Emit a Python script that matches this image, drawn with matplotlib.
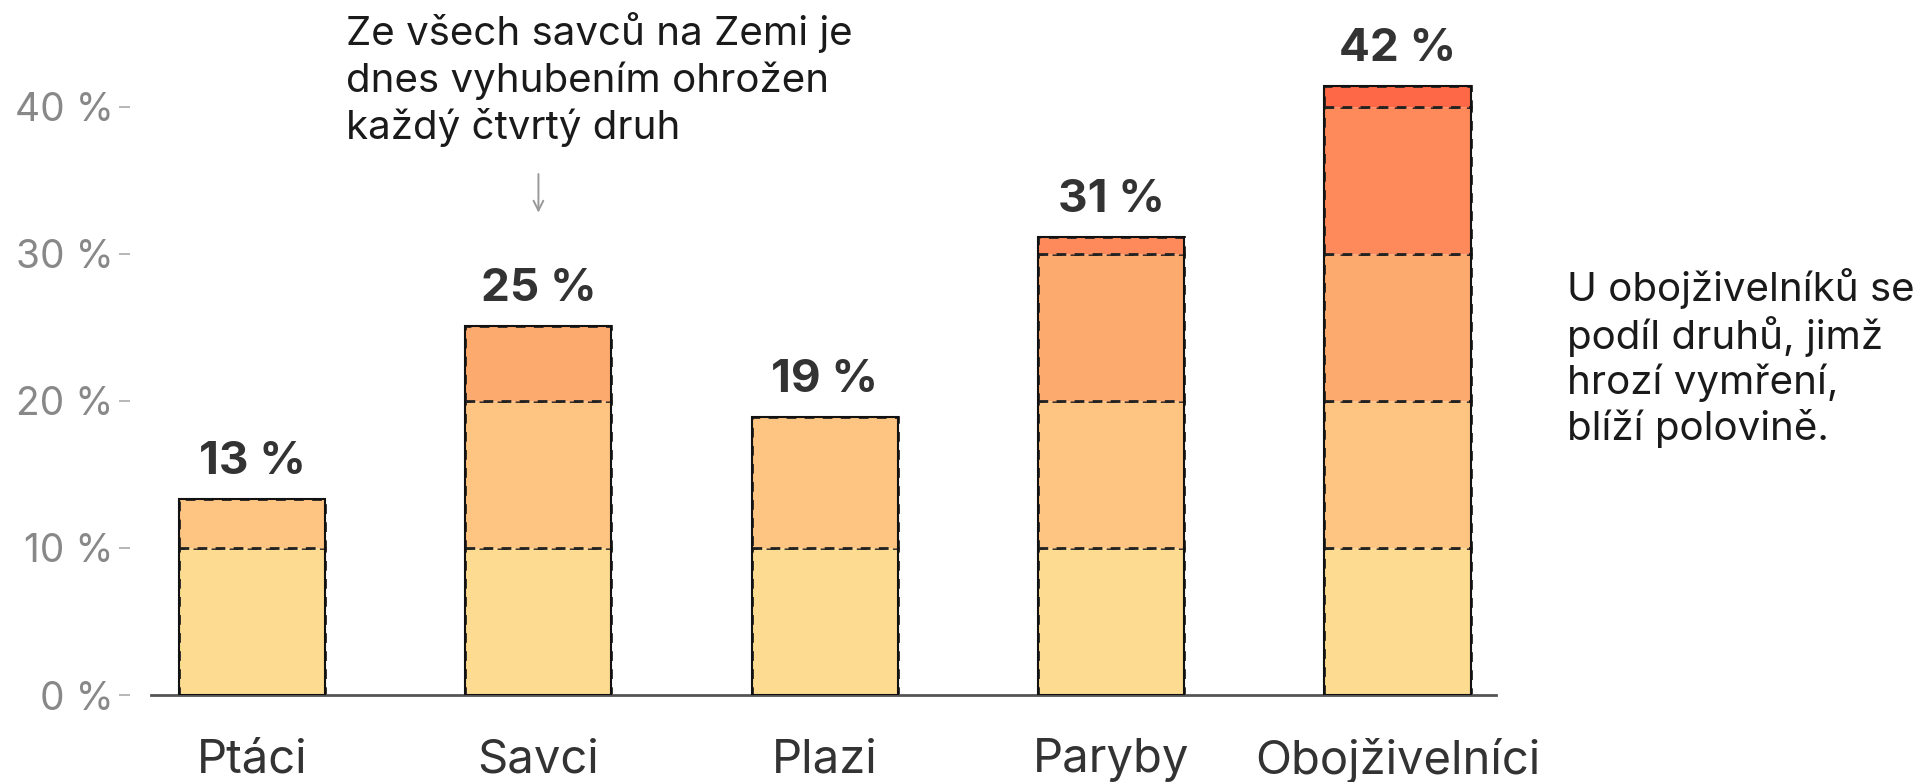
import matplotlib
matplotlib.use("Agg")
import matplotlib.pyplot as plt
from matplotlib.patches import Rectangle

plt.rcParams['font.family'] = ['Inter', 'DejaVu Sans']

kategorie = ['Ptáci', 'Savci', 'Plazi', 'Paryby', 'Obojživelníci']
hodnoty = [13.3, 25.1, 18.9, 31.1, 41.4]
popisky = ['13 %', '25 %', '19 %', '31 %', '42 %']
hranice = [0, 10, 20, 30, 40, 50]
barvy = ['#FDDB91', '#FEC481', '#FDAA6E', '#FE895B', '#FE6846']

W, H = 1923, 782
fig = plt.figure(figsize=(W / 100, H / 100), dpi=100)
ax = fig.add_axes([151 / W, (H - 695) / H, 1345 / W, 662 / H])
# posun osy y nejdriv, jinak se resetuji ticky
ax.spines['left'].set_position(('outward', 15))
ax.spines['left'].set_visible(False)
ax.spines['top'].set_visible(False)
ax.spines['right'].set_visible(False)
ax.spines['bottom'].set_color('#555555')
ax.spines['bottom'].set_linewidth(2)

sirka = 0.51
for i, v in enumerate(hodnoty):
    x0 = i - sirka / 2
    # segmenty po 10 %
    for k in range(len(hranice) - 1):
        lo, hi = hranice[k], min(hranice[k + 1], v)
        if hi <= lo:
            break
        ax.add_patch(Rectangle((x0, lo), sirka, hi - lo, facecolor=barvy[k],
                               edgecolor='#222222', linestyle=(0, (3.5, 3)),
                               linewidth=2, zorder=2))
    ax.add_patch(Rectangle((x0, 0), sirka, v, facecolor='none',
                           edgecolor='#111111', linewidth=1.5, zorder=3))
    ax.annotate(popisky[i], xy=(i, v), xytext=(0, 18), textcoords='offset points',
                ha='center', va='baseline', fontsize=33, fontweight='bold',
                color='#333333')

ax.set_xlim(-0.353, 4.344)
ax.set_ylim(0, 45)
ax.set_xticks(range(len(kategorie)))
ax.set_xticklabels(kategorie, fontsize=34, color='#333333')
ax.tick_params(axis='x', length=0, pad=31)
ax.set_yticks([0, 10, 20, 30, 40])
ax.set_yticklabels(['0 %', '10 %', '20 %', '30 %', '40 %'], fontsize=28, color='#888888')
ax.tick_params(axis='y', length=8, width=1.2, color='#aaaaaa', pad=4)

fig.text(346 / W, 1 - 12 / H,
         'Ze všech savců na Zemi je\ndnes vyhubením ohrožen\nkaždý čtvrtý druh',
         ha='left', va='top', fontsize=29, color='#1a1a1a', linespacing=1.27)
ax.annotate('', xy=(1, 32.6), xytext=(1, 35.6),
            arrowprops=dict(arrowstyle='->,head_length=0.7,head_width=0.35',
                            color='#999999', lw=1.4))

fig.text(1567 / W, 1 - 268 / H,
         'U obojživelníků se\npodíl druhů, jimž\nhrozí vymření,\nblíží polovině.',
         ha='left', va='top', fontsize=29, color='#1a1a1a', linespacing=1.22)

fig.savefig('out.png', dpi=100)
